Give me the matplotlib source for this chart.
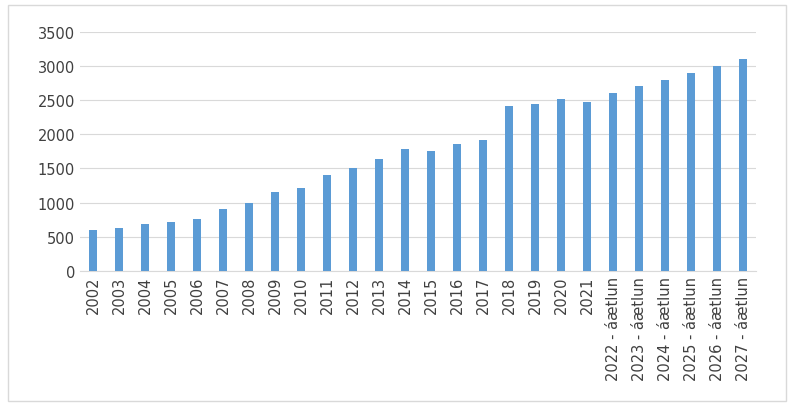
import matplotlib.pyplot as plt
from matplotlib.patches import Rectangle

years = [str(y) for y in range(2002, 2022)] + [f"{y} - áætlun" for y in range(2022, 2028)]
values = [600, 620, 680, 720, 760, 910, 990, 1150, 1220, 1410, 1510, 1640, 1780, 1750,
          1860, 1920, 2410, 2440, 2520, 2470, 2600, 2700, 2800, 2900, 3000, 3100]

fig = plt.figure(figsize=(8, 4.1), dpi=100)
ax = fig.add_axes([0.1, 0.337, 0.845, 0.583])
x = range(len(years))
ax.bar(x, values, width=0.27, color="#5B9BD5", zorder=3)
ax.set_xlim(-0.5, len(years) - 0.5)
ax.set_ylim(0, 3500)
ax.set_yticks(range(0, 3501, 500))
ax.set_xticks(list(x))
ax.set_xticklabels(years, rotation=90, fontsize=10.5, color="#404040")
ax.tick_params(axis="y", labelsize=10.5, labelcolor="#404040", length=0)
ax.tick_params(axis="x", length=0)
ax.grid(axis="y", color="#D9D9D9", linewidth=0.8, zorder=0)
for s in ["top", "right", "left"]:
    ax.spines[s].set_visible(False)
ax.spines["bottom"].set_color("#D9D9D9")
fig.patches.append(Rectangle((0.01, 0.02), 0.973, 0.965, transform=fig.transFigure,
                             fill=False, edgecolor="#D9D9D9", linewidth=1))
fig.savefig("out.png")
